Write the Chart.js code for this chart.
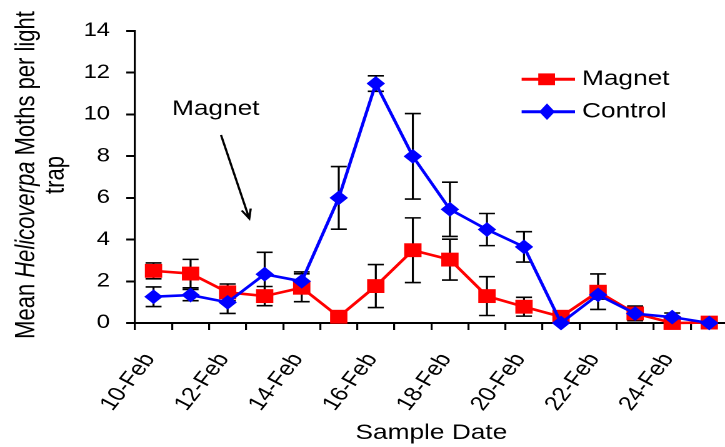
<!DOCTYPE html>
<html>
<head>
<meta charset="utf-8">
<script src="https://cdn.jsdelivr.net/npm/chart.js@4.4.1/dist/chart.umd.min.js"></script>
<style>
html,body{margin:0;padding:0;background:#fff;overflow:hidden;}
#wrap{width:725px;height:447px;overflow:hidden;position:relative;background:#fff;}
</style>
</head>
<body>
<div id="wrap"><canvas id="c" width="592" height="447" style="width:740px;height:447px"></canvas></div>
<script>
// ---- data ----
const categories = ['10-Feb','11-Feb','12-Feb','13-Feb','14-Feb','15-Feb','16-Feb','17-Feb',
                    '18-Feb','19-Feb','20-Feb','21-Feb','22-Feb','23-Feb','24-Feb','25-Feb'];
const magnetValues = [2.50, 2.37, 1.47, 1.29, 1.69, 0.30, 1.77, 3.49, 3.04, 1.29, 0.78, 0.30, 1.50, 0.46, 0.00, 0.02];
const magnetErrors = [0.38, 0.68, 0.40, 0.46, 0.67, 0.00, 1.03, 1.55, 0.98, 0.93, 0.45, 0.00, 0.85, 0.35, 0.00, 0.00];
const controlValues = [1.26, 1.34, 0.99, 2.34, 2.00, 6.00, 11.48, 7.99, 5.45, 4.48, 3.65, 0.00, 1.35, 0.45, 0.28, 0.00];
const controlErrors = [0.47, 0.27, 0.53, 1.05, 0.45, 1.50, 0.37, 2.05, 1.30, 0.77, 0.73, 0.00, 0.20, 0.30, 0.20, 0.00];
const yMin = 0, yMax = 14, yStep = 2;
const xTitle = 'Sample Date';
const annotationText = 'Magnet';

const FONT = '"Liberation Sans", Arial, sans-serif';
const RED = '#ff0000', BLUE = '#0000ff';

const errorBars = {
  id: 'errorBars',
  beforeDatasetsDraw(chart) {
    const ctx = chart.ctx, ys = chart.scales.y;
    ctx.save();
    ctx.strokeStyle = '#000';
    ctx.lineWidth = 1.6;
    chart.data.datasets.forEach((ds, di) => {
      const meta = chart.getDatasetMeta(di);
      meta.data.forEach((pt, i) => {
        const e = ds.errors[i];
        if (!e) return;
        const v = ds.data[i];
        const t = ys.getPixelForValue(v + e);
        const b = ys.getPixelForValue(Math.max(0, v - e));
        const hw = 6.4;
        ctx.beginPath();
        ctx.moveTo(pt.x, t); ctx.lineTo(pt.x, b);
        ctx.moveTo(pt.x - hw, t); ctx.lineTo(pt.x + hw, t);
        ctx.moveTo(pt.x - hw, b); ctx.lineTo(pt.x + hw, b);
        ctx.stroke();
      });
    });
    ctx.restore();
  }
};

const extras = {
  id: 'extras',
  afterDraw(chart) {
    const ctx = chart.ctx;
    ctx.save();
    ctx.fillStyle = '#000';
    // y axis title (two lines, italic genus)
    ctx.save();
    ctx.translate(27.5, 175);
    ctx.rotate(-Math.PI / 2);
    ctx.textBaseline = 'alphabetic';
    const parts = [['Mean ', 'normal'], ['Helicoverpa', 'italic'], [' Moths per light', 'normal']];
    let total = 0;
    parts.forEach(p => { ctx.font = p[1] + ' 22px ' + FONT; p.w = ctx.measureText(p[0]).width; total += p.w; });
    let x = -total / 2;
    ctx.textAlign = 'left';
    parts.forEach(p => { ctx.font = p[1] + ' 22px ' + FONT; ctx.fillText(p[0], x, 0); x += p.w; });
    ctx.font = 'normal 22px ' + FONT;
    ctx.textAlign = 'center';
    ctx.fillText('trap', 0, 23.5);
    ctx.restore();

    // annotation text + arrow
    ctx.font = '21px ' + FONT;
    ctx.textAlign = 'left';
    ctx.textBaseline = 'alphabetic';
    ctx.fillText(annotationText, 137.6, 115);
    const x1 = 176.8, y1 = 135, x2 = 199.4, y2 = 218.5;
    ctx.strokeStyle = '#000';
    ctx.lineWidth = 1.8;
    ctx.beginPath();
    ctx.moveTo(x1, y1); ctx.lineTo(x2, y2);
    const ang = Math.atan2(y2 - y1, x2 - x1);
    const al = 10, aw = 0.38;
    ctx.moveTo(x2 - al * Math.cos(ang - aw), y2 - al * Math.sin(ang - aw));
    ctx.lineTo(x2, y2);
    ctx.lineTo(x2 - al * Math.cos(ang + aw), y2 - al * Math.sin(ang + aw));
    ctx.stroke();

    // legend
    ctx.lineWidth = 3;
    ctx.strokeStyle = RED;
    ctx.beginPath(); ctx.moveTo(417.3, 79.3); ctx.lineTo(460, 79.3); ctx.stroke();
    ctx.fillStyle = RED;
    ctx.fillRect(437.3 - 6.7, 79.3 - 5.9, 13.4, 11.8);
    ctx.strokeStyle = BLUE;
    ctx.beginPath(); ctx.moveTo(417.3, 111.7); ctx.lineTo(460, 111.7); ctx.stroke();
    ctx.fillStyle = BLUE;
    ctx.beginPath();
    ctx.moveTo(437.6 - 6.3, 111.7); ctx.lineTo(437.6, 111.7 - 8.3);
    ctx.lineTo(437.6 + 6.3, 111.7); ctx.lineTo(437.6, 111.7 + 8.3);
    ctx.closePath(); ctx.fill();
    ctx.fillStyle = '#000';
    ctx.font = '21px ' + FONT;
    ctx.textBaseline = 'middle';
    ctx.fillText('Magnet', 465.6, 79.3);
    ctx.fillText('Control', 465.6, 111.5);
    ctx.restore();
  }
};

new Chart(document.getElementById('c'), {
  type: 'line',
  data: {
    labels: categories,
    datasets: [
      {
        label: 'Magnet', data: magnetValues, errors: magnetErrors,
        borderColor: RED, backgroundColor: RED, borderWidth: 2.6,
        pointStyle: 'rect', pointRadius: 9.8, pointBorderWidth: 0,
        pointBackgroundColor: RED, pointBorderColor: RED,
        tension: 0, clip: false, order: 1
      },
      {
        label: 'Control', data: controlValues, errors: controlErrors,
        borderColor: BLUE, backgroundColor: BLUE, borderWidth: 2.6,
        pointStyle: 'rectRot', pointRadius: 7.4, pointBorderWidth: 0,
        pointBackgroundColor: BLUE, pointBorderColor: BLUE,
        tension: 0, clip: false, order: 0
      }
    ]
  },
  options: {
    responsive: false,
    devicePixelRatio: 2,
    animation: false,
    layout: { padding: { top: 31, right: 6.9, bottom: 0, left: 0 } },
    plugins: { legend: { display: false }, tooltip: { enabled: false }, title: { display: false } },
    scales: {
      x: {
        type: 'category',
        offset: true,
        grid: { display: true, offset: true, drawOnChartArea: false, drawTicks: true, tickLength: 7,
                color: '#000', lineWidth: 1.6 },
        border: { display: true, color: '#000', width: 2 },
        ticks: {
          autoSkip: false, minRotation: 57, maxRotation: 57, padding: 19, labelOffset: -3,
          color: '#000', font: { family: FONT, size: 20 },
          callback: (v, i) => (i % 2 === 0 ? categories[i] : '')
        },
        title: { display: true, text: xTitle, color: '#000', font: { family: FONT, size: 21 },
                 padding: { top: 0, bottom: 1 } },
        afterFit: s => { s.height = 124; s.paddingRight = 0; s.paddingLeft = 0; }
      },
      y: {
        min: yMin, max: yMax,
        grid: { display: true, drawOnChartArea: false, drawTicks: true, tickLength: 7,
                color: '#000', lineWidth: 2 },
        border: { display: true, color: '#000', width: 1.6 },
        ticks: { stepSize: yStep, padding: 13, color: '#000', font: { family: FONT, size: 19 } },
        afterFit: s => { s.width = 108; }
      }
    }
  },
  plugins: [errorBars, extras]
});
</script>
</body>
</html>
